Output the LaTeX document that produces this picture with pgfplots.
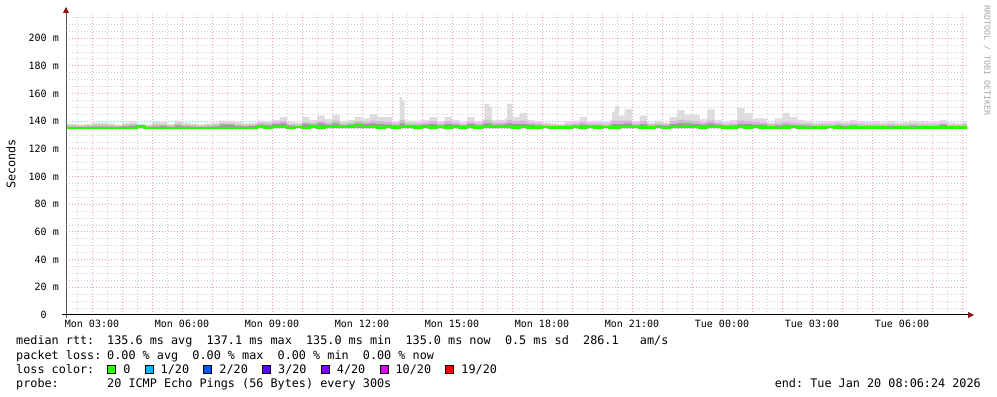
\documentclass[border=0pt]{standalone}
\usepackage{fontspec}
\setmainfont{DejaVu Sans Mono}
\usepackage{pgfplots}
\usepackage{pgfplotstable}
\pgfplotsset{compat=1.18}
\usepgfplotslibrary{fillbetween}
\definecolor{gridmin}{RGB}{205,205,205}
\definecolor{gridmaj}{RGB}{232,165,165}
\definecolor{arrowred}{RGB}{140,20,20}
\definecolor{smokeA}{RGB}{221,221,221}
\definecolor{smokeB}{RGB}{195,195,195}
\definecolor{smokeC}{RGB}{155,155,155}
\definecolor{medgreen}{RGB}{38,255,0}
\definecolor{lzero}{RGB}{38,255,0}
\definecolor{lone}{RGB}{0,184,255}
\definecolor{ltwo}{RGB}{0,89,255}
\definecolor{lthree}{RGB}{94,0,255}
\definecolor{lfour}{RGB}{126,0,255}
\definecolor{lten}{RGB}{221,0,255}
\definecolor{lnineteen}{RGB}{255,0,0}
\newcommand\legfont{\fontsize{11.8bp}{14bp}\selectfont}
\newcommand\axfont{\fontsize{10bp}{12bp}\selectfont}
\newcommand\lbox[1]{{\setlength\fboxsep{0pt}\setlength\fboxrule{1bp}\fcolorbox{black}{#1}{\rule{0pt}{7bp}\hspace{7bp}}}}

\pgfplotstableread{
t max mid dark med
2.00 138.5 137.0 136.0 135.3
2.25 138.0 137.0 136.0 135.3
2.50 137.5 136.8 136.0 135.3
2.75 138.0 137.0 136.0 135.3
3.00 139.0 137.5 136.2 135.3
3.25 139.0 137.5 136.2 135.3
3.50 138.5 137.2 136.0 135.3
3.75 137.5 136.8 136.0 135.3
4.00 139.0 137.5 136.3 135.3
4.25 140.0 138.0 136.8 135.3
4.50 138.0 137.0 136.0 136.3
4.75 137.5 136.8 136.0 135.3
5.00 139.5 137.8 136.3 135.3
5.25 139.5 137.8 136.5 135.3
5.50 138.0 137.0 136.0 135.3
5.75 140.5 138.5 137.0 135.3
6.00 139.0 137.5 136.3 135.3
6.25 138.5 137.2 136.0 135.3
6.50 137.5 136.8 136.0 135.3
6.75 138.5 137.2 136.0 135.3
7.00 139.0 137.5 136.3 135.3
7.25 140.5 138.5 137.5 135.3
7.50 140.5 138.5 137.5 135.3
7.75 139.5 137.8 136.5 135.3
8.00 138.5 137.5 136.3 135.3
8.25 139.0 137.8 136.5 135.3
8.50 140.5 139.0 137.5 136.2
8.75 140.0 138.5 137.0 135.3
9.00 141.0 139.5 138.0 136.0
9.25 143.0 140.0 138.5 135.8
9.50 139.5 138.0 136.8 135.3
9.75 139.0 137.8 136.5 136.0
10.00 143.0 139.5 138.0 135.3
10.25 141.0 139.0 137.5 136.2
10.50 144.0 140.0 138.5 135.5
10.75 141.5 139.0 137.5 136.0
11.00 144.8 140.5 138.5 136.5
11.25 140.0 138.5 137.0 136.0
11.50 141.0 139.0 137.5 136.5
11.75 143.0 140.0 138.5 137.5
12.00 142.0 139.5 138.0 136.0
12.25 145.0 140.5 138.5 136.2
12.50 143.0 140.0 138.0 135.5
12.75 143.0 139.5 137.5 136.0
13.00 140.0 138.5 137.0 135.5
13.25 157.5 141.0 138.5 136.0
13.33 155.0 141.0 138.5 136.0
13.42 140.5 138.5 137.0 136.5
13.75 140.5 138.5 137.0 135.5
14.00 141.0 139.0 137.5 136.0
14.25 143.0 140.0 138.0 135.5
14.50 140.0 138.5 137.0 136.0
14.75 143.0 140.0 138.0 135.5
15.00 141.0 139.0 137.5 136.0
15.25 139.5 138.0 136.8 135.5
15.50 143.0 139.5 138.0 136.0
15.75 140.0 138.5 137.0 135.5
16.00 141.0 139.5 138.0 136.0
16.08 152.5 141.0 138.5 136.0
16.25 150.0 140.5 138.5 136.5
16.33 141.0 139.0 137.5 135.8
16.75 142.0 139.5 138.0 136.0
16.83 152.5 141.0 138.5 136.0
17.00 143.0 140.0 138.0 135.5
17.25 146.0 140.5 138.0 136.0
17.50 141.0 139.0 137.5 135.5
17.75 140.0 138.5 137.0 135.5
18.00 139.0 138.0 136.5 135.8
18.25 138.5 137.5 136.3 135.5
18.50 138.0 137.2 136.0 135.5
18.75 140.0 138.0 136.5 135.5
19.00 140.5 138.5 137.0 135.8
19.25 143.0 139.5 137.5 135.5
19.50 140.0 138.5 137.0 136.0
19.75 140.5 138.5 137.0 135.5
20.00 139.5 138.0 136.5 135.8
20.25 141.0 139.0 137.0 135.5
20.33 147.0 140.0 138.0 135.5
20.42 151.0 140.5 138.0 135.5
20.58 144.0 140.0 138.0 136.0
20.75 148.5 140.5 138.5 135.8
21.00 140.0 138.5 137.0 136.0
21.25 144.0 140.0 138.0 135.5
21.50 139.0 138.0 136.5 135.5
21.75 140.5 138.5 137.0 136.0
22.00 139.0 138.0 136.8 135.2
22.25 143.0 140.0 138.0 135.8
22.50 148.0 141.0 138.5 136.0
22.75 145.0 140.5 138.5 136.5
23.00 144.5 140.0 138.0 136.0
23.25 141.5 139.0 137.5 135.5
23.50 148.5 140.5 138.5 135.8
23.75 141.0 139.0 137.5 136.0
24.00 139.5 138.0 136.8 135.5
24.25 141.0 138.5 137.0 135.5
24.50 149.5 140.5 138.0 136.0
24.75 146.0 140.0 138.0 135.5
25.00 142.0 139.5 137.5 135.8
25.25 142.0 139.0 137.5 135.5
25.50 139.0 138.0 136.5 135.5
25.75 142.0 138.5 137.0 135.2
26.00 146.0 139.5 137.5 135.5
26.25 143.0 139.0 137.0 135.8
26.50 141.0 138.5 137.0 135.5
26.75 140.5 138.5 136.8 135.2
27.00 139.0 137.8 136.5 135.5
27.25 139.5 138.0 136.5 135.5
27.50 140.0 138.0 136.5 135.8
27.75 140.5 138.5 137.0 135.5
28.00 139.5 138.0 136.5 135.2
28.25 141.0 138.5 137.0 135.5
28.50 140.0 138.0 136.5 135.5
28.75 139.5 137.8 136.5 135.5
29.00 140.0 138.0 136.5 135.5
29.25 139.0 137.5 136.3 135.5
29.50 140.0 138.0 136.5 135.2
29.75 139.0 137.5 136.3 135.5
30.00 139.5 137.8 136.5 135.5
30.25 140.5 138.3 136.8 135.2
30.50 140.0 138.0 136.5 135.5
30.75 139.5 137.8 136.3 135.5
31.00 140.0 138.0 136.5 135.5
31.25 141.0 138.5 137.5 135.5
31.50 139.0 137.5 136.3 135.5
31.75 138.5 137.5 136.0 135.5
32.00 140.0 138.0 136.5 135.5
32.25 140.0 138.0 136.5 135.5
}\smoke

\begin{document}
\begin{tikzpicture}
\path (0bp,0bp) rectangle (997bp,397bp);
\begin{axis}[
  name=main, at={(66bp,82bp)}, anchor=south west,
  width=901bp, height=301bp, scale only axis,
  xmin=2.133, xmax=32.167, ymin=0, ymax=217.5,
  set layers,
  axis line style={draw=none},
  xtick={3,4,...,32},
  xticklabels={Mon 03:00,,,Mon 06:00,,,Mon 09:00,,,Mon 12:00,,,Mon 15:00,,,Mon 18:00,,,Mon 21:00,,,Tue 00:00,,,Tue 03:00,,,Tue 06:00,,},
  minor xtick={2.5,3.5,...,31.5},
  ytick={0,20,...,200},
  yticklabels={0\hphantom{\ m},20 m,40 m,60 m,80 m,100 m,120 m,140 m,160 m,180 m,200 m},
  minor ytick={5,10,15,25,30,35,45,50,55,65,70,75,85,90,95,105,110,115,125,130,135,145,150,155,165,170,175,185,190,195,205,210,215},
  grid=both,
  major grid style={gridmaj, dash pattern=on 1bp off 2bp, line width=1bp},
  minor grid style={gridmin, dash pattern=on 1bp off 2bp, line width=1bp},
  major tick length=0pt, minor tick length=0pt,
  ticklabel style={font=\axfont, inner sep=0pt},
  yticklabel style={anchor=east, xshift=-7bp},
  xticklabel style={anchor=north, yshift=-5bp},
]
\addplot[name path=base, draw=none, forget plot] coordinates {(2.0,135) (32.25,135)};
\addplot[name path=pmax, draw=none, const plot, forget plot] table[x=t,y=max]{\smoke};
\addplot[name path=pmid, draw=none, const plot, forget plot] table[x=t,y=mid]{\smoke};
\addplot[name path=pdark, draw=none, const plot, forget plot] table[x=t,y=dark]{\smoke};
\addplot[fill=smokeA, draw=none, on layer=axis background] fill between[of=pmax and base];
\addplot[fill=smokeB, draw=none, on layer=axis background] fill between[of=pmid and base];
\addplot[fill=smokeC, draw=none, on layer=axis background] fill between[of=pdark and base];
\addplot[const plot, medgreen, line width=2.3bp] table[x=t,y=med]{\smoke};
\end{axis}
% axis lines with arrows
\draw[black!65, line width=1bp] ([yshift=-3bp]main.south west) -- ([yshift=2bp]main.north west);
\draw[black, line width=1bp] ([xshift=-4bp]main.south west) -- ([xshift=1bp]main.south east);
\fill[arrowred] ([xshift=-3bp,yshift=1bp]main.north west) -- ([xshift=3bp,yshift=1bp]main.north west) -- ([yshift=7bp]main.north west) -- cycle;
\fill[arrowred] ([xshift=1bp,yshift=3bp]main.south east) -- ([xshift=1bp,yshift=-3bp]main.south east) -- ([xshift=7bp]main.south east) -- cycle;
% y label
\node[rotate=90, font=\legfont, inner sep=0pt] at (11bp,233bp) {Seconds};
% watermark
\node[rotate=-90, anchor=west, inner sep=0pt, font=\fontsize{8.3bp}{10bp}\selectfont, text=black!35] at (987bp,392bp) {RRDTOOL~/~TOBI~OETIKER};
% legend
\begin{scope}[every node/.style={anchor=base west, inner sep=0pt, font=\legfont}]
\node at (16bp,52bp) {median~rtt:};
\node at (107bp,52bp) {135.6~ms~avg~~137.1~ms~max~~135.0~ms~min~~135.0~ms~now~~0.5~ms~sd~~286.1~~~am/s};
\node at (16bp,38bp) {packet~loss:};
\node at (107bp,38bp) {0.00~\%~avg~~0.00~\%~max~~0.00~\%~min~~0.00~\%~now};
\node at (16bp,24bp) {loss~color:};
\node at (107bp,24bp) {\lbox{lzero}~0~~\lbox{lone}~1/20~~\lbox{ltwo}~2/20~~\lbox{lthree}~3/20~~\lbox{lfour}~4/20~~\lbox{lten}~10/20~~\lbox{lnineteen}~19/20};
\node at (16bp,10bp) {probe:};
\node at (107bp,10bp) {20~ICMP~Echo~Pings~(56~Bytes)~every~300s};
\node[anchor=base east] at (981bp,10bp) {end:~Tue~Jan~20~08:06:24~2026};
\end{scope}
\end{tikzpicture}
\end{document}
